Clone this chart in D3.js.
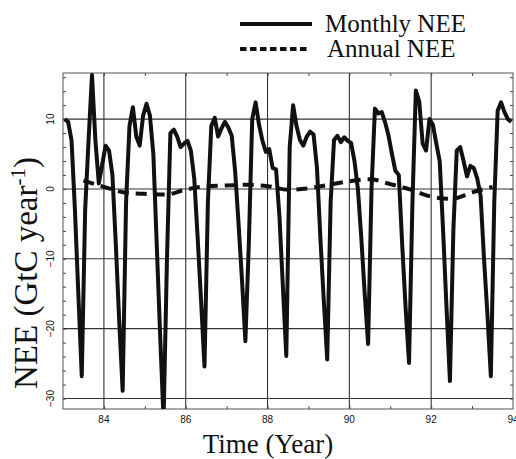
<!DOCTYPE html>
<html>
<head>
<meta charset="utf-8">
<script src="https://cdn.jsdelivr.net/npm/d3@7"></script>
<style>
  body { margin: 0; background: #fff; }
  .tick-label { font-family: "Liberation Sans", Arial, sans-serif; font-size: 10px; fill: #111; }
  .title { font-family: "Liberation Serif", "Times New Roman", serif; fill: #111; }
</style>
</head>
<body>
<div id="chart"></div>
<script>
// monthly NEE, one row per year (Jan..Dec), GtC/yr
var monthly83 = [10, 9.6, 7, -3, -15, -26.8, -3, 7, 16.3, 7, 0.8, 3.5];
var monthly84 = [6.2, 5.5, 2, -8, -19, -28.9, -2, 9, 11.7, 7.5, 6.2, 10.5];
var monthly85 = [12.2, 10.5, 5, -8, -21, -33, -10, 8, 8.5, 7.5, 6, 6.5];
var monthly86 = [6.9, 5.5, 1.5, -7, -16, -25.4, -2, 9, 10.2, 7.5, 8.7, 9.6];
var monthly87 = [8.8, 7.6, 2.5, -5, -13, -21.8, -8, 10, 12.4, 9.2, 6.9, 5.3];
var monthly88 = [5.7, 3, 2.8, -4, -14, -23.9, 6, 12, 9, 7, 6.2, 7.5];
var monthly89 = [8.2, 7.8, 3, -7, -16, -24.4, -2, 7, 7.6, 6.7, 7.4, 6.9];
var monthly90 = [6.6, 4, 0, -7, -15, -22.2, 0, 11.5, 10.8, 11, 9.5, 7.6];
var monthly91 = [5, 2.6, 2, -8, -17, -24.9, -2, 14.1, 12.5, 6.5, 5.5, 10];
var monthly92 = [9.2, 6.5, 4, -6, -17, -27.5, -6, 5.5, 6, 4, 1.8, 3.3];
var monthly93 = [3, 1.5, -1, -10, -18, -26.8, -2, 11.2, 12.4, 11, 10, 9.6];

// annual (running mean) NEE
var annualTime = [83.5, 84, 84.5, 85, 85.5, 86, 86.5, 87, 87.5, 88, 88.5, 89, 89.5, 90, 90.5, 91, 91.5, 92, 92.5, 93, 93.5];
var annualNee = [1.2, 0.3, -0.5, -0.7, -0.8, -0.1, 0.4, 0.5, 0.6, 0.4, -0.1, 0.1, 0.6, 1.1, 1.4, 0.7, -0.1, -1.1, -1.4, -0.5, 0.3];

var xTicks = [84, 86, 88, 90, 92, 94];
var yTicks = [-30, -20, -10, 0, 10];

var size = {
  width: 516,
  height: 459,
  top: 73,
  right: 3,
  bottom: 50,
  left: 63
};

var monthlyRows = [monthly83, monthly84, monthly85, monthly86, monthly87, monthly88,
  monthly89, monthly90, monthly91, monthly92, monthly93];
var monthly = [];
monthlyRows.forEach(function (row, y) {
  row.forEach(function (v, m) {
    monthly.push({time: 83 + y + (m + 0.5) / 12, value: v});
  });
});
var annual = annualTime.map(function (t, i) {
  return {time: t, value: annualNee[i]};
});

var xScale = d3.scaleLinear().domain([83, 94]).range([size.left, size.width - size.right]);
var yScale = d3.scaleLinear().domain([-31.5, 16.6]).range([size.height - size.bottom, size.top]);

var svg = d3.select("#chart")
  .append("svg")
  .attr("width", size.width)
  .attr("height", size.height);

svg.append("clipPath")
  .attr("id", "plot-clip")
  .append("rect")
  .attr("x", size.left)
  .attr("y", size.top)
  .attr("width", size.width - size.left - size.right)
  .attr("height", size.height - size.top - size.bottom);

// grid
var grid = svg.append("g");
grid.selectAll("line.vx")
  .data(xTicks.filter(function (d) { return d < 94; }))
  .enter()
  .append("line")
  .attr("x1", xScale).attr("x2", xScale)
  .attr("y1", size.top).attr("y2", size.height - size.bottom)
  .attr("stroke", "#333").attr("stroke-width", 1.1);
grid.selectAll("line.hy")
  .data(yTicks)
  .enter()
  .append("line")
  .attr("x1", size.left).attr("x2", size.width - size.right)
  .attr("y1", yScale).attr("y2", yScale)
  .attr("stroke", "#333").attr("stroke-width", 1.1);

// minor ticks on the frame (inward)
var axisTop = d3.axisBottom(xScale).tickValues(d3.range(84, 94, 1)).tickSize(3).tickFormat("");
var axisBottom = d3.axisTop(xScale).tickValues(d3.range(84, 94, 1)).tickSize(3).tickFormat("");
var axisLeft = d3.axisRight(yScale).tickValues(d3.range(-30, 17, 2)).tickSize(3).tickFormat("");
var axisRight = d3.axisLeft(yScale).tickValues(d3.range(-30, 17, 2)).tickSize(3).tickFormat("");

svg.append("g").attr("transform", "translate(0," + size.top + ")").call(axisTop);
svg.append("g").attr("transform", "translate(0," + (size.height - size.bottom) + ")").call(axisBottom);
svg.append("g").attr("transform", "translate(" + size.left + ",0)").call(axisLeft);
svg.append("g").attr("transform", "translate(" + (size.width - size.right) + ",0)").call(axisRight);
svg.selectAll(".domain").remove();
svg.selectAll(".tick line").attr("stroke", "#444");

svg.append("rect")
  .attr("x", size.left)
  .attr("y", size.top)
  .attr("width", size.width - size.left - size.right)
  .attr("height", size.height - size.top - size.bottom)
  .attr("fill", "none")
  .attr("stroke", "#555")
  .attr("stroke-width", 1);

// tick labels
svg.selectAll("text.xt")
  .data(xTicks)
  .enter()
  .append("text")
  .attr("class", "tick-label")
  .attr("x", xScale)
  .attr("y", size.height - size.bottom + 14)
  .attr("text-anchor", "middle")
  .text(function (d) { return d; });

svg.selectAll("text.yt")
  .data(yTicks)
  .enter()
  .append("text")
  .attr("class", "tick-label")
  .attr("transform", function (d) { return "translate(54," + yScale(d) + ") rotate(-90)"; })
  .attr("text-anchor", "middle")
  .text(function (d) { return d < 0 ? "\u2212" + Math.abs(d) : d; });

// lines
var line = d3.line()
  .x(function (d) { return xScale(d.time); })
  .y(function (d) { return yScale(d.value); });

var plot = svg.append("g").attr("clip-path", "url(#plot-clip)");

plot.append("path")
  .datum(annual)
  .attr("d", line.curve(d3.curveMonotoneX))
  .attr("fill", "none")
  .attr("stroke", "#111")
  .attr("stroke-width", 4)
  .attr("stroke-dasharray", "11,7");

plot.append("path")
  .datum(monthly)
  .attr("d", line.curve(d3.curveLinear))
  .attr("fill", "none")
  .attr("stroke", "#111")
  .attr("stroke-width", 4)
  .attr("stroke-linejoin", "round");

// axis titles
svg.append("text")
  .attr("class", "title")
  .attr("x", 268)
  .attr("y", 453)
  .attr("text-anchor", "middle")
  .attr("font-size", 27)
  .text("Time (Year)");

var yTitle = svg.append("text")
  .attr("class", "title")
  .attr("transform", "translate(37,273) rotate(-90)")
  .attr("text-anchor", "middle")
  .attr("font-size", 33);
yTitle.append("tspan").text("NEE (GtC year");
yTitle.append("tspan").attr("dy", -12).attr("font-size", 21).text("-1");
yTitle.append("tspan").attr("dy", 12).text(")");

// legend
var legend = svg.append("g");
legend.append("line")
  .attr("x1", 240).attr("x2", 312).attr("y1", 24).attr("y2", 24)
  .attr("stroke", "#111").attr("stroke-width", 4);
legend.append("line")
  .attr("x1", 240).attr("x2", 310).attr("y1", 49).attr("y2", 49)
  .attr("stroke", "#111").attr("stroke-width", 4).attr("stroke-dasharray", "6.5,3.5");
legend.append("text")
  .attr("class", "title").attr("font-size", 25)
  .attr("x", 325).attr("y", 32)
  .text("Monthly NEE");
legend.append("text")
  .attr("class", "title").attr("font-size", 25)
  .attr("x", 327).attr("y", 57)
  .text("Annual NEE");
</script>
</body>
</html>
